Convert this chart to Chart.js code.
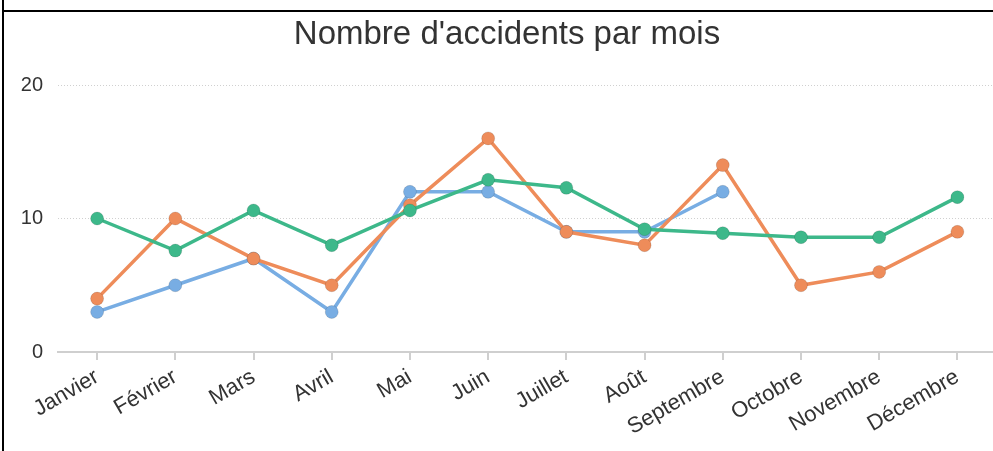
<!DOCTYPE html>
<html>
<head>
<meta charset="utf-8">
<script src="https://cdn.jsdelivr.net/npm/chart.js@4"></script>
<style>
  html, body { margin: 0; padding: 0; background: #fff; overflow: hidden; width: 993px; height: 451px; }
  #vline { position: absolute; left: 2px; top: 0; width: 2px; height: 12px; background: #000; }
  #frame { position: absolute; left: 2px; top: 10px; width: 1100px; height: 600px; border-top: 2px solid #000; border-left: 2px solid #000; }
  #wrap { position: absolute; left: 4px; top: 12px; width: 1000px; height: 439px; }
</style>
</head>
<body>
<div id="vline"></div>
<div id="frame"></div>
<div id="wrap"><canvas id="c" width="1000" height="439"></canvas></div>
<script>
const months = ['Janvier','Février','Mars','Avril','Mai','Juin','Juillet','Août','Septembre','Octobre','Novembre','Décembre'];
const seriesBlue   = [3, 5, 7, 3, 12, 12, 9, 9, 12, null, null, null];
const seriesOrange = [4, 10, 7, 5, 11, 16, 9, 8, 14, 5, 6, 9];
const seriesGreen  = [10, 7.6, 10.6, 8, 10.6, 12.9, 12.3, 9.2, 8.9, 8.6, 8.6, 11.6];
const yTicks = [0, 10, 20];
const titleText = "Nombre d'accidents par mois";

const FONT = "'Liberation Sans', Arial, Helvetica, sans-serif";

function ds(label, data, color, order) {
  return {
    label, data, order,
    borderColor: color,
    backgroundColor: color,
    borderWidth: 3.5,
    pointRadius: 6.5,
    pointHoverRadius: 6.5,
    pointBorderWidth: 1,
    pointBorderColor: 'rgba(0,0,0,0.12)',
    pointBackgroundColor: color,
    tension: 0,
    spanGaps: false,
    fill: false
  };
}

new Chart(document.getElementById('c'), {
  type: 'line',
  data: {
    labels: months,
    datasets: [
      ds('Série 1', seriesBlue, '#78ade3', 2),
      ds('Série 2', seriesOrange, '#ee8c5a', 1),
      ds('Série 3', seriesGreen, '#3db88a', 0)
    ]
  },
  options: {
    responsive: false,
    animation: false,
    devicePixelRatio: 1,
    layout: { padding: { right: 0, left: 6, top: 0, bottom: 0 } },
    plugins: {
      legend: { display: false },
      tooltip: { enabled: false },
      title: {
        display: true,
        text: titleText,
        color: '#333',
        font: { family: FONT, size: 33, weight: 'normal' },
        padding: { top: 3, bottom: 30.4 }
      }
    },
    scales: {
      x: {
        offset: true,
        grid: { display: true, drawOnChartArea: false, drawTicks: true, tickLength: 8, color: '#cfcfcf', lineWidth: 2, offset: false },
        border: { display: true, color: '#cfcfcf', width: 2 },
        ticks: {
          color: '#333',
          font: { family: FONT, size: 22 },
          minRotation: 30, maxRotation: 30,
          autoSkip: false,
          padding: 4
        },
        afterFit: (s) => { s.height = 99; }
      },
      y: {
        min: 0, max: 20,
        afterBuildTicks: (s) => { s.ticks = yTicks.map(v => ({ value: v })); },
        grid: { color: '#d0d0d0', lineWidth: 1, drawTicks: false },
        border: { display: false, dash: [1, 2] },
        ticks: {
          color: '#333',
          font: { family: FONT, size: 20 },
          padding: 15
        },
        afterFit: (s) => { s.width = 48; }
      }
    }
  }
});
</script>
</body>
</html>
